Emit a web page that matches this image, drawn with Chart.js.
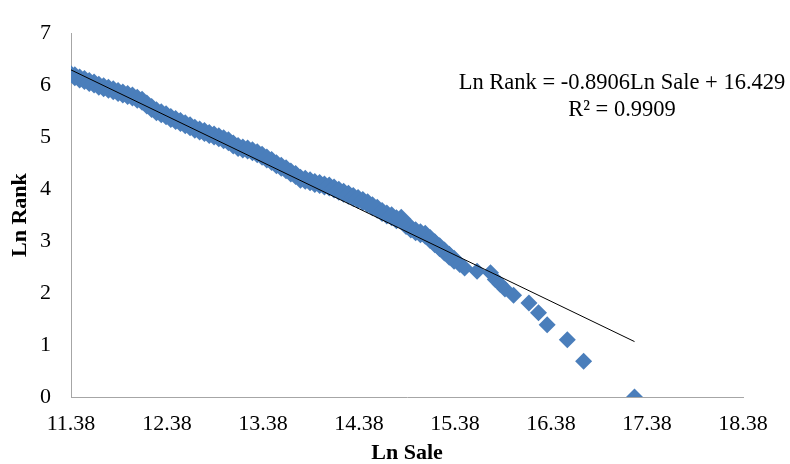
<!DOCTYPE html>
<html>
<head>
<meta charset="utf-8">
<title>Ln Rank vs Ln Sale</title>
<script src="https://cdn.jsdelivr.net/npm/chart.js@4.4.1/dist/chart.umd.min.js"></script>
<style>
    html, body { margin: 0; padding: 0; background: #ffffff; }
    #wrap { width: 790px; height: 464px; }
</style>
</head>
<body>
<div id="wrap"><canvas id="rankChart" width="790" height="464"></canvas></div>
<script>
// ==================== DATA ====================

// Ln Sale (x) and Ln Rank (y)
const lnSale = [
    11.37, 11.42, 11.47, 11.52, 11.57, 11.62, 11.67, 11.72, 11.77, 11.82,
    11.87, 11.92, 11.97, 12.02, 12.07, 12.12, 12.17, 12.22, 12.27, 12.32,
    12.37, 12.42, 12.47, 12.52, 12.57, 12.62, 12.67, 12.72, 12.77, 12.82,
    12.87, 12.92, 12.97, 13.02, 13.07, 13.12, 13.17, 13.22, 13.27, 13.32,
    13.37, 13.42, 13.47, 13.52, 13.57, 13.62, 13.67, 13.72, 13.77, 13.82,
    13.87, 13.92, 13.97, 14.02, 14.07, 14.12, 14.17, 14.22, 14.27, 14.32,
    14.37, 14.42, 14.47, 14.52, 14.57, 14.62, 14.67, 14.72, 14.77, 14.82,
    14.87, 14.92, 14.97, 15.02, 15.07, 15.12, 15.17, 15.22, 15.27, 15.32,
    15.37, 15.43, 15.48, 15.61, 15.75, 15.80, 15.85, 15.90, 15.99, 16.15,
    16.25, 16.34, 16.55, 16.72, 17.25
];
const lnRank = [
    6.21, 6.17, 6.13, 6.10, 6.06, 6.03, 5.99, 5.96, 5.93, 5.90,
    5.87, 5.84, 5.81, 5.78, 5.74, 5.70, 5.63, 5.56, 5.50, 5.46,
    5.42, 5.37, 5.33, 5.29, 5.25, 5.21, 5.16, 5.13, 5.10, 5.06,
    5.03, 5.00, 4.96, 4.92, 4.86, 4.81, 4.78, 4.76, 4.73, 4.69,
    4.64, 4.59, 4.54, 4.48, 4.43, 4.38, 4.32, 4.27, 4.20, 4.18,
    4.15, 4.12, 4.10, 4.07, 4.05, 4.01, 3.97, 3.93, 3.89, 3.85,
    3.81, 3.77, 3.73, 3.67, 3.62, 3.56, 3.51, 3.48, 3.42, 3.43,
    3.31, 3.24, 3.19, 3.15, 3.12, 3.04, 2.96, 2.88, 2.80, 2.72,
    2.64, 2.55, 2.48, 2.42, 2.39, 2.26, 2.17, 2.08, 1.96, 1.81,
    1.62, 1.39, 1.10, 0.69, 0.00
];

// Trend line, as printed on the chart
const trendSlope = -0.8906;
const trendIntercept = 16.429;
const trendLabel = ['Ln Rank = -0.8906Ln Sale + 16.429', 'R\u00B2 = 0.9909'];

// Axis ticks
const xTickValues = [11.38, 12.38, 13.38, 14.38, 15.38, 16.38, 17.38, 18.38];
const yTickValues = [0, 1, 2, 3, 4, 5, 6, 7];

// ==================== CHART ====================

const SERIF = "'Liberation Serif', 'Times New Roman', serif";
const BLUE = '#4A7EBB';
const AXIS_GRAY = '#A6A6A6';

const points = lnSale.map((x, i) => ({ x: x, y: lnRank[i] }));

const xMin = Math.min(...lnSale);
const xMax = Math.max(...lnSale);
const trendPoints = [xMin, xMax].map(x => ({ x: x, y: trendSlope * x + trendIntercept }));

// draws the trend equation text
const equationPlugin = {
    id: 'equation',
    afterDraw(chart) {
        const ctx = chart.ctx;
        ctx.save();
        ctx.fillStyle = '#000000';
        ctx.font = '22.5px ' + SERIF;
        ctx.textAlign = 'center';
        ctx.textBaseline = 'middle';
        ctx.fillText(trendLabel[0], 622, 83);
        ctx.fillText(trendLabel[1], 622, 110);
        ctx.restore();
    }
};

new Chart(document.getElementById('rankChart'), {
    type: 'scatter',
    data: {
        datasets: [
            {
                label: 'Trend',
                type: 'line',
                data: trendPoints,
                borderColor: '#000000',
                borderWidth: 1,
                pointRadius: 0,
                fill: false,
                order: 0
            },
            {
                label: 'Ln Rank',
                data: points,
                pointStyle: 'rectRot',
                // the dense band is a bit fatter in the original (overlapping marks)
                pointRadius: (ctx) => (ctx.raw && ctx.raw.y > 2.6 ? 10 : 8.5),
                pointBackgroundColor: BLUE,
                pointBorderWidth: 0,
                pointBorderColor: BLUE,
                order: 1
            }
        ]
    },
    options: {
        responsive: false,
        animation: false,
        layout: { padding: { left: 0, right: 47, top: 15, bottom: 0 } },
        plugins: {
            legend: { display: false },
            tooltip: { enabled: false }
        },
        scales: {
            x: {
                type: 'linear',
                min: xTickValues[0],
                max: xTickValues[xTickValues.length - 1],
                afterBuildTicks: (scale) => {
                    scale.ticks = xTickValues.map(v => ({ value: v }));
                },
                afterFit: (scale) => { scale.height = 67; },
                grid: { display: false, drawTicks: false },
                border: { display: true, color: AXIS_GRAY, width: 1 },
                ticks: {
                    color: '#000000',
                    font: { family: SERIF, size: 22 },
                    padding: 14,
                    maxRotation: 0,
                    autoSkip: false,
                    callback: (v) => Number(v).toFixed(2)
                },
                title: {
                    display: true,
                    text: 'Ln Sale',
                    color: '#000000',
                    font: { family: SERIF, size: 22, weight: 'bold', lineHeight: 1 },
                    padding: 0
                }
            },
            y: {
                type: 'linear',
                min: yTickValues[0],
                max: yTickValues[yTickValues.length - 1],
                afterBuildTicks: (scale) => {
                    scale.ticks = yTickValues.map(v => ({ value: v }));
                },
                afterFit: (scale) => { scale.width = 71; },
                grid: { display: false, drawTicks: false },
                border: { display: true, color: AXIS_GRAY, width: 1 },
                ticks: {
                    color: '#000000',
                    font: { family: SERIF, size: 22 },
                    padding: 20,
                    autoSkip: false
                },
                title: {
                    display: true,
                    text: 'Ln Rank',
                    color: '#000000',
                    font: { family: SERIF, size: 22, weight: 'bold', lineHeight: 1 },
                    padding: { top: 9, bottom: 0 }
                }
            }
        }
    },
    plugins: [equationPlugin]
});
</script>
</body>
</html>
